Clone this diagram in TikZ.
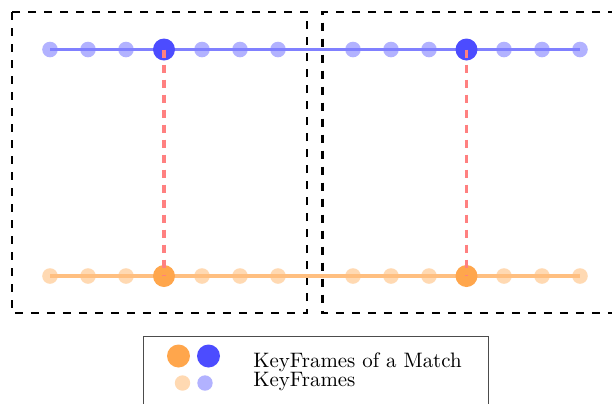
\documentclass[tikz,border=0pt]{standalone}
\begin{document}
\begin{tikzpicture}[x=0.5pt,y=-0.5pt,
  sdotb/.style={circle,inner sep=0pt,minimum size=7.8pt,fill=blue!30},
  bdotb/.style={circle,inner sep=0pt,minimum size=11pt,fill=blue!70},
  sdoto/.style={circle,inner sep=0pt,minimum size=7.8pt,fill=orange!30},
  bdoto/.style={circle,inner sep=0pt,minimum size=11pt,fill=orange!70},
  bline/.style={draw=blue!50,line width=1.8pt},
  oline/.style={draw=orange!50,line width=1.8pt},
  match/.style={draw=red!50,line width=1.65pt,dash pattern=on 4.15pt off 3.35pt},
  groupbox/.style={draw=black,line width=1.1pt,dash pattern=on 4pt off 4pt},
  legbox/.style={draw=black!70,line width=0.5pt},
  legtext/.style={anchor=base west,inner sep=0pt,font=\fontsize{10.45}{12}\selectfont}]
\useasboundingbox (0,0) rectangle (612,403);
% group boxes
\draw[groupbox] (12,12) rectangle (307,313);
\draw[groupbox] (616,12) -- (322.5,12) -- (322.5,313) -- (616,313);
% small dots
\foreach \i/\x in {1/50,2/88,3/126,5/202,6/240,7/278,8/353,9/391,10/429,12/504,13/542,14/580}{
  \node[sdotb] (b\i) at (\x,49.5) {};
  \node[sdoto] (o\i) at (\x,276) {};
}
% lines
\draw[bline] (b1.center) -- (b14.center);
\draw[oline] (o1.center) -- (o14.center);
% big dots
\node[bdotb] (b4) at (164,49.5) {};
\node[bdotb] (b11) at (466.5,49.5) {};
\node[bdoto] (o4) at (164,276) {};
\node[bdoto] (o11) at (466.5,276) {};
% matches
\draw[match] (b4.center) -- (o4.center);
\draw[match] (b11.center) -- (o11.center);
% legend
\draw[legbox] (143,336) -- (143,410) (143,336) -- (488,336) -- (488,410);
\node[bdoto,minimum size=11.5pt] (lo1) at (178.5,356) {};
\node[bdotb,minimum size=11.5pt] (lb1) at (208.5,356) {};
\node[sdoto,minimum size=7.7pt] (lo2) at (182.5,383) {};
\node[sdotb,minimum size=7.7pt] (lb2) at (205,383) {};
\node[legtext] (t1) at (253,367.5) {KeyFrames of a Match};
\node[legtext] (t2) at (253,386) {KeyFrames};
\end{tikzpicture}
\end{document}
